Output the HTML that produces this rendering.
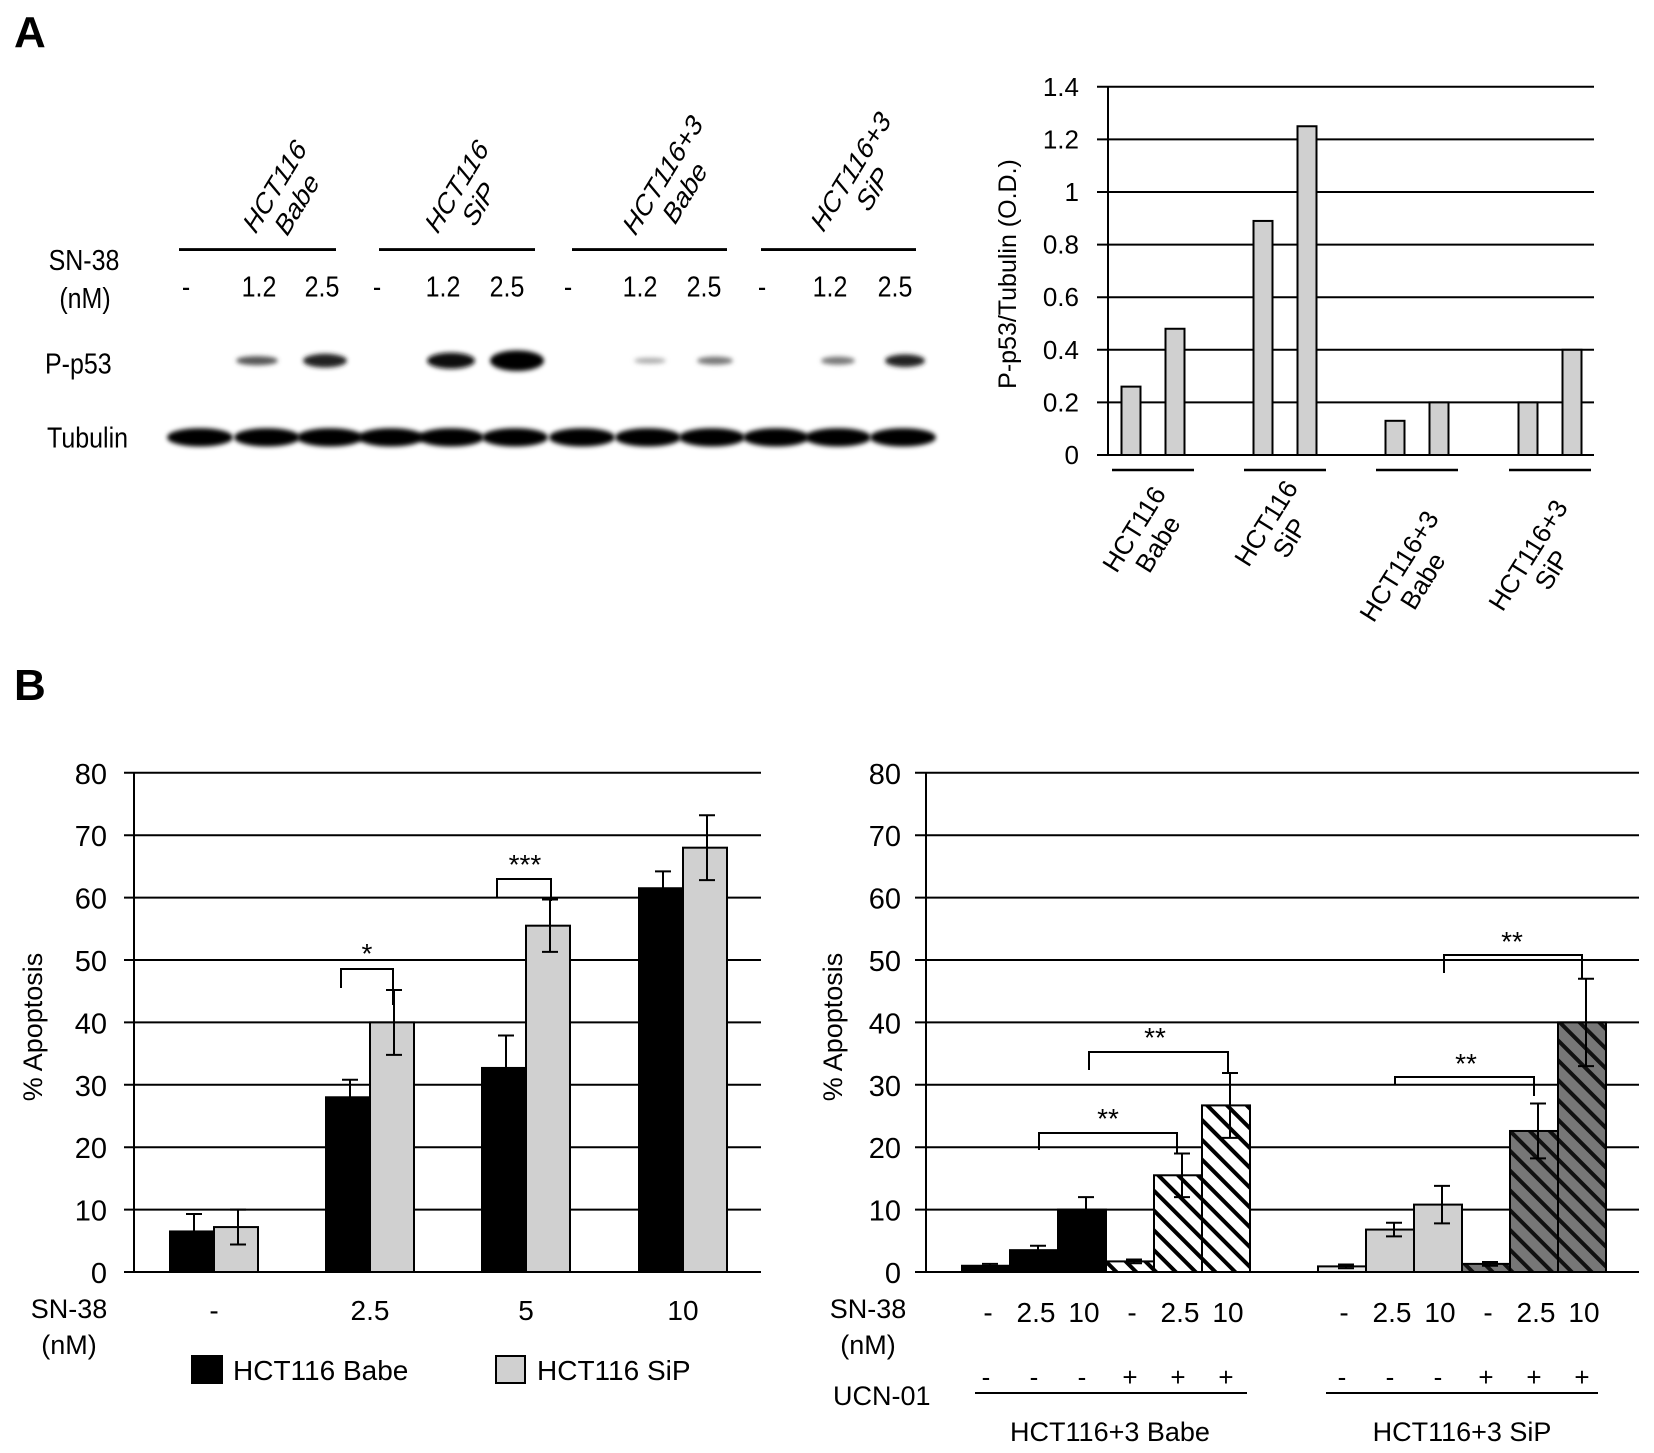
<!DOCTYPE html>
<html><head><meta charset="utf-8"><style>
html,body{margin:0;padding:0;background:#fff;}
svg{display:block;font-family:"Liberation Sans",Arial,sans-serif;}
</style></head><body>
<svg id="fig" width="1654" height="1453" viewBox="0 0 1654 1453" xmlns="http://www.w3.org/2000/svg">
<defs>
<pattern id="hatchW" patternUnits="userSpaceOnUse" width="14" height="14" patternTransform="rotate(-45)">
<rect width="14" height="14" fill="#fff"/><rect x="0" y="0" width="4" height="14" fill="#000"/></pattern>
<pattern id="hatchD" patternUnits="userSpaceOnUse" width="14" height="14" patternTransform="rotate(-45)">
<rect width="14" height="14" fill="#777"/><rect x="0" y="0" width="4" height="14" fill="#111"/></pattern>
<filter id="blur" x="-30%" y="-80%" width="160%" height="260%"><feGaussianBlur stdDeviation="2.2"/></filter>
</defs>
<text x="14" y="47" font-size="44" font-weight="bold">A</text>
<text x="14" y="700" font-size="44" font-weight="bold">B</text>
<g id="blot" transform="matrix(1,0,0,1.145,0,0)"></g>
<g id="chartA"></g>
<g id="chartB1"></g>
<g id="chartB2"></g>
</svg>
<script>
// ---- Chart A data ----
const aGroups = ["HCT116|Babe","HCT116|SiP","HCT116+3|Babe","HCT116+3|SiP"];
const aValues = [0.26,0.48,0.89,1.25,0.13,0.20,0.20,0.40];
const aTicks = ["0","0.2","0.4","0.6","0.8","1","1.2","1.4"];
// ---- Chart B1 data ----
const b1Cats = ["-","2.5","5","10"];
const b1Babe = [6.5,28,32.7,61.5];
const b1BabeErr = [2.8,2.8,5.2,2.7];
const b1SiP = [7.2,40,55.5,68];
const b1SiPErr = [2.8,5.2,4.2,5.2];
const bTicks = ["0","10","20","30","40","50","60","70","80"];
// ---- Chart B2 data ----
const b2Sn38 = ["-","2.5","10","-","2.5","10","-","2.5","10","-","2.5","10"];
const b2Ucn = ["-","-","-","+","+","+","-","-","-","+","+","+"];
const b2Values = [1.0,3.5,10,1.7,15.5,26.7,0.9,6.8,10.8,1.3,22.6,40];
const b2Err = [0.3,0.7,2,0.3,3.5,5.2,0.3,1.1,3,0.3,4.4,7];
const b2Fill = ["#000","#000","#000","url(#hatchW)","url(#hatchW)","url(#hatchW)","#e8e8e8","#d0d0d0","#d0d0d0","url(#hatchD)","url(#hatchD)","url(#hatchD)"];

const NS="http://www.w3.org/2000/svg";
function mk(parent,tag,attrs,txt){const e=document.createElementNS(NS,tag);for(const k in attrs)e.setAttribute(k,attrs[k]);if(txt!==undefined)e.textContent=txt;parent.appendChild(e);return e;}

// ================= Western blot =================
const blot=document.getElementById('blot');
const lanes=[197,264,327,388,448,512,579,645,709,773,835,900];
const laneLbl=["-","1.2","2.5","-","1.2","2.5","-","1.2","2.5","-","1.2","2.5"];
const blotGroups=[["HCT116","Babe",285,170],["HCT116","SiP",467,170],["HCT116+3","Babe",673,160],["HCT116+3","SiP",861,157]];
const ulines=[[179,336],[379,535],[572,727],[761,916]];
blotGroups.forEach((g,i)=>{
  const t=mk(blot,'text',{transform:`translate(${g[2]},${g[3]}) rotate(-55)`,'font-size':25,'font-style':'italic','text-anchor':'middle'});
  
  
  mk(t,'tspan',{x:0,dy:-4},g[0]);mk(t,'tspan',{x:0,dy:27},g[1]);
  const l=mk(blot,'line',{x1:ulines[i][0],x2:ulines[i][1],y1:218,y2:218,stroke:'#000','stroke-width':2.5});
  
  
});
let t=mk(blot,'text',{x:84,y:236,'font-size':25,'text-anchor':'middle'},'SN-38');

t=mk(blot,'text',{x:85,y:269,'font-size':25,'text-anchor':'middle'},'(nM)');

lanes.forEach((x,i)=>{const e=mk(blot,'text',{x:x-5+(i%3?0:-6),y:259,'font-size':25,'text-anchor':'middle'},laneLbl[i]);
  
  });
t=mk(blot,'text',{x:45,y:326,'font-size':25},'P-p53');

t=mk(blot,'text',{x:47,y:391,'font-size':25},'Tubulin');

const pBands=[[257,21,4,'#555'],[325,22,6,'#222'],[451,24,7,'#111'],[517,27,9,'#000'],[650,16,2.5,'#aaa'],[715,18,3.5,'#777'],[838,17,3.5,'#777'],[905,20,5.5,'#222']];
pBands.forEach(b=>{const e=mk(blot,'ellipse',{cx:b[0],cy:315,rx:b[1],ry:b[2],fill:b[3],filter:'url(#blur)'});
  
  });
lanes.forEach(x=>{const e=mk(blot,'ellipse',{cx:x+3,cy:382,rx:33,ry:8,fill:'#000',filter:'url(#blur)'});
  
  });

// ================= Chart A =================
const cA=document.getElementById('chartA');
const aX0=1108,aY0=455,aPer=52.6/0.2;
const ya=v=>aY0-v*aPer;
aTicks.forEach(s=>{const v=parseFloat(s);
  const l=mk(cA,'line',{x1:1097,x2:1594,y1:ya(v),y2:ya(v),stroke:'#000','stroke-width':2});
  
  const e=mk(cA,'text',{x:1079,y:ya(v)+9,'font-size':26,'text-anchor':'end'},s);
  });
let ax=mk(cA,'line',{x1:aX0,x2:aX0,y1:ya(1.4),y2:aY0,stroke:'#000','stroke-width':2});

t=mk(cA,'text',{transform:'translate(1016,274) rotate(-90)','font-size':25,'text-anchor':'middle'},'P-p53/Tubulin  (O.D.)');

const aGroupStart=[1131,1263,1395,1528], aInner=44;
aValues.forEach((v,i)=>{const g=Math.floor(i/2),cx=aGroupStart[g]+(i%2)*aInner;
  const r=mk(cA,'rect',{x:cx-9.5,y:ya(v),width:19,height:aY0-ya(v),fill:'#d0d0d0',stroke:'#000','stroke-width':2});
  });
const aLabelPos=[[1145,536],[1277,530],[1410,573],[1539,562]];
aGroups.forEach((s,g)=>{const parts=s.split('|');
  const l=mk(cA,'line',{x1:aGroupStart[g]-19,x2:aGroupStart[g]+aInner+19,y1:470,y2:470,stroke:'#000','stroke-width':2.5});
  
  const e=mk(cA,'text',{transform:`translate(${aLabelPos[g][0]},${aLabelPos[g][1]}) rotate(-58)`,'font-size':26,'text-anchor':'middle'});
  
  mk(e,'tspan',{x:0,dy:-4},parts[0]);mk(e,'tspan',{x:0,dy:28},parts[1]);});

// ================= Shared B axis helpers =================
const bY0=1272,bPer=62.4/10;
const yb=v=>bY0-v*bPer;
function bAxes(g,ax,gx1,gx2,tickX,labelX){
  bTicks.forEach(s=>{const v=+s;
    const l=mk(g,'line',{x1:gx1,x2:gx2,y1:yb(v),y2:yb(v),stroke:'#000','stroke-width':2});
    
    const e=mk(g,'text',{x:tickX,y:yb(v)+11,'font-size':29,'text-anchor':'end'},s);
    });
  const a=mk(g,'line',{x1:ax,x2:ax,y1:yb(80),y2:bY0,stroke:'#000','stroke-width':2});
  
  const e=mk(g,'text',{transform:`translate(${labelX},1027) rotate(-90)`,'font-size':27,'text-anchor':'middle'},'% Apoptosis');
  
}
function errBar(g,cx,v,e){
  const p=mk(g,'path',{d:`M${cx},${yb(v-e)}V${yb(v+e)}M${cx-8},${yb(v+e)}H${cx+8}M${cx-8},${yb(v-e)}H${cx+8}`,stroke:'#000','stroke-width':2,fill:'none'});
  
}
function bracket(g,x1,x2,yTop,yL,yR,label,tx,ty){
  const p=mk(g,'path',{d:`M${x1},${yL}V${yTop}H${x2}V${yR}`,stroke:'#000','stroke-width':2,fill:'none'});
  
  const e=mk(g,'text',{x:tx,y:ty,'font-size':28,'text-anchor':'middle'},label);
  
}

// ================= Chart B1 =================
const c1=document.getElementById('chartB1');
bAxes(c1,134,124,761,107,42);
const b1Centers=[214,370,526,683], bw=44;
b1Cats.forEach((c,i)=>{
  const x=b1Centers[i];
  const r1=mk(c1,'rect',{x:x-bw,y:yb(b1Babe[i]),width:bw,height:bY0-yb(b1Babe[i]),fill:'#000',stroke:'#000','stroke-width':2});
  
  const r2=mk(c1,'rect',{x:x,y:yb(b1SiP[i]),width:bw,height:bY0-yb(b1SiP[i]),fill:'#d0d0d0',stroke:'#000','stroke-width':2});
  
  errBar(c1,x-bw/2+2,b1Babe[i],b1BabeErr[i]);
  errBar(c1,x+bw/2+2,b1SiP[i],b1SiPErr[i]);
  const e=mk(c1,'text',{x:x,y:1320,'font-size':28,'text-anchor':'middle'},c);
  
});
bracket(c1,341,393,969,988,1005,'*',367,963);
bracket(c1,497,551,879,897,901,'***',525,874);
t=mk(c1,'text',{x:69,y:1318,'font-size':27,'text-anchor':'middle'},'SN-38');

t=mk(c1,'text',{x:69,y:1354,'font-size':27,'text-anchor':'middle'},'(nM)');

let lg=mk(c1,'rect',{x:192,y:1356,width:30,height:27,fill:'#000',stroke:'#000','stroke-width':2});

t=mk(c1,'text',{x:233,y:1380,'font-size':28},'HCT116  Babe');

lg=mk(c1,'rect',{x:496,y:1356,width:29,height:27,fill:'#d0d0d0',stroke:'#000','stroke-width':2});

t=mk(c1,'text',{x:537,y:1380,'font-size':28},'HCT116  SiP');


// ================= Chart B2 =================
const c2=document.getElementById('chartB2');
bAxes(c2,926,915,1639,901,842);
const b2Start=[962,1318], b2w=48;
b2Values.forEach((v,i)=>{
  const g=Math.floor(i/6),x=b2Start[g]+(i%6)*b2w,cx=x+b2w/2;
  const r=mk(c2,'rect',{x:x,y:yb(v),width:b2w,height:bY0-yb(v),fill:b2Fill[i],stroke:'#000','stroke-width':2});
  
  errBar(c2,cx+4,v,b2Err[i]);
  const e=mk(c2,'text',{x:cx+2,y:1322,'font-size':28,'text-anchor':'middle'},b2Sn38[i]);
  
  const u=mk(c2,'text',{x:cx,y:1386,'font-size':26,'text-anchor':'middle'},b2Ucn[i]);
  
});
bracket(c2,1039,1177,1133,1150,1154,'**',1108,1128);
bracket(c2,1089,1228,1052,1070,1072,'**',1155,1047);
bracket(c2,1395,1534,1077,1084,1096,'**',1466,1073);
bracket(c2,1444,1582,955,973,978,'**',1512,951);
t=mk(c2,'text',{x:868,y:1318,'font-size':27,'text-anchor':'middle'},'SN-38');

t=mk(c2,'text',{x:868,y:1354,'font-size':27,'text-anchor':'middle'},'(nM)');

t=mk(c2,'text',{x:833,y:1405,'font-size':27},'UCN-01');

let ul=mk(c2,'line',{x1:975,x2:1247,y1:1393,y2:1393,stroke:'#000','stroke-width':2});

ul=mk(c2,'line',{x1:1326,x2:1598,y1:1393,y2:1393,stroke:'#000','stroke-width':2});

t=mk(c2,'text',{x:1110,y:1441,'font-size':27,'text-anchor':'middle'},'HCT116+3  Babe');

t=mk(c2,'text',{x:1462,y:1441,'font-size':27,'text-anchor':'middle'},'HCT116+3  SiP');

</script>
</body></html>
